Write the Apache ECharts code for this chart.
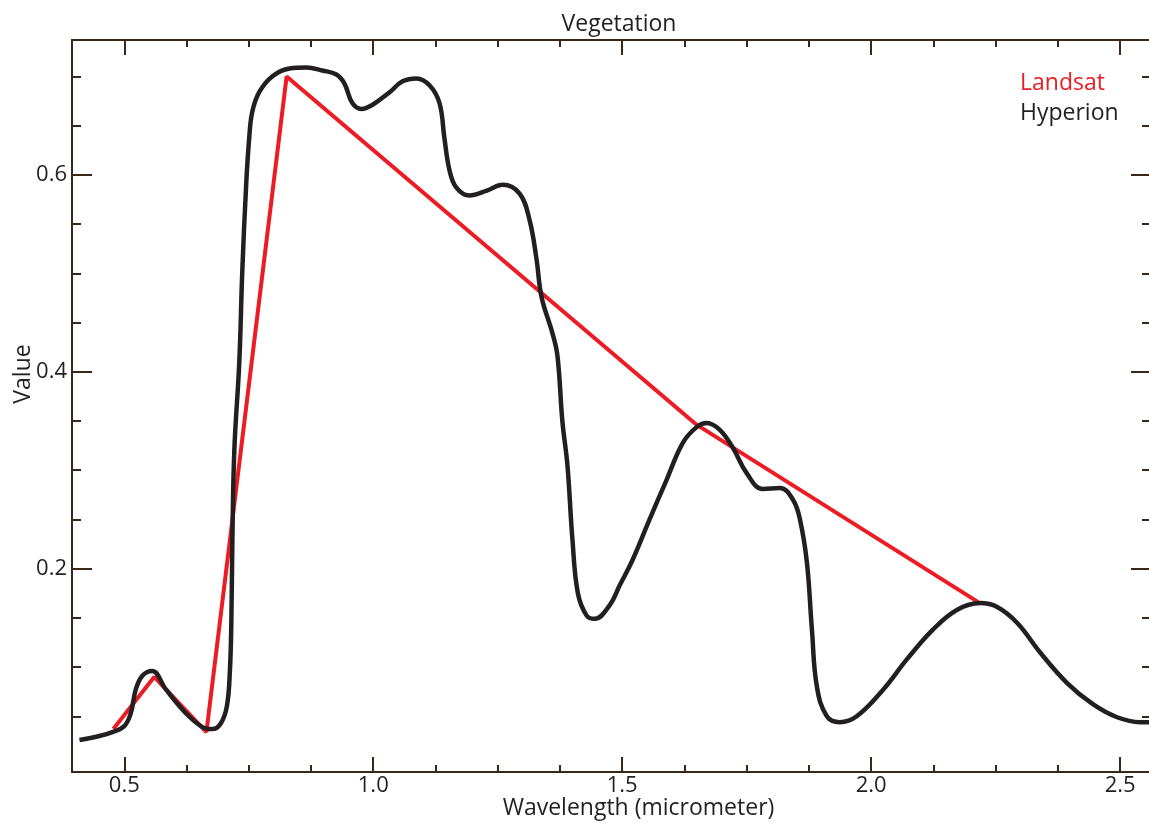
<!DOCTYPE html>
<html>
<head>
<meta charset="utf-8">
<title>Vegetation</title>
<script src="https://cdn.jsdelivr.net/npm/echarts@6/dist/echarts.min.js"></script>
<style>
  html, body { margin: 0; padding: 0; background: #fff; }
  #chart { width: 1149px; height: 823px; }
</style>
</head>
<body>
<div id="chart"></div>
<script>
// data: [wavelength, value]
const landsat = [
  [0.478, 0.037], [0.56, 0.090], [0.665, 0.034],
  [0.826, 0.700], [1.65, 0.346], [2.215, 0.166]
]
const hyperion = [
  [0.41, 0.026], [0.45, 0.030], [0.476, 0.034], [0.50, 0.040], [0.513, 0.053],
  [0.523, 0.077], [0.536, 0.091], [0.556, 0.096], [0.584, 0.077], [0.624, 0.053],
  [0.657, 0.039], [0.677, 0.037], [0.694, 0.043], [0.706, 0.060], [0.712, 0.095],
  [0.715, 0.145], [0.717, 0.225], [0.721, 0.320], [0.731, 0.410], [0.737, 0.502],
  [0.745, 0.592], [0.751, 0.638], [0.757, 0.664], [0.771, 0.684], [0.797, 0.700],
  [0.832, 0.708], [0.866, 0.709], [0.898, 0.706], [0.926, 0.702], [0.942, 0.693],
  [0.958, 0.673], [0.976, 0.667], [0.998, 0.671], [1.033, 0.684], [1.059, 0.695],
  [1.087, 0.698], [1.113, 0.691], [1.133, 0.673], [1.143, 0.637], [1.153, 0.605],
  [1.167, 0.587], [1.193, 0.579], [1.228, 0.584], [1.260, 0.590], [1.294, 0.581],
  [1.314, 0.554], [1.328, 0.514], [1.338, 0.476], [1.360, 0.439], [1.370, 0.416],
  [1.380, 0.349], [1.390, 0.305], [1.400, 0.230], [1.411, 0.175], [1.429, 0.152],
  [1.445, 0.149], [1.475, 0.163], [1.495, 0.183], [1.521, 0.209], [1.555, 0.250],
  [1.589, 0.290], [1.622, 0.328], [1.650, 0.344], [1.670, 0.348], [1.696, 0.341],
  [1.722, 0.323], [1.750, 0.297], [1.782, 0.281], [1.817, 0.282], [1.843, 0.270],
  [1.857, 0.250], [1.871, 0.206], [1.881, 0.138], [1.891, 0.080], [1.911, 0.050],
  [1.937, 0.044], [1.971, 0.050], [2.024, 0.077], [2.072, 0.108], [2.124, 0.138],
  [2.172, 0.158], [2.219, 0.165], [2.253, 0.161], [2.293, 0.145], [2.339, 0.115],
  [2.393, 0.084], [2.446, 0.062], [2.494, 0.049], [2.540, 0.044], [2.562, 0.044]
]
const xMajor = [0.5, 1.0, 1.5, 2.0, 2.5]
const xMinor = [0.625, 0.75, 0.875, 1.125, 1.25, 1.375, 1.625, 1.75, 1.875, 2.125, 2.25, 2.375]
const yMajor = [0.2, 0.4, 0.6]
const yMinor = [0.05, 0.1, 0.15, 0.25, 0.3, 0.35, 0.45, 0.5, 0.55, 0.65, 0.7]

const X_MIN = 0.395, X_MAX = 2.562
const Y_MIN = -0.0066, Y_MAX = 0.737

const axisColor = '#3a2718'
const textColor = '#231f20'
const font = 'Open Sans'

// one axis = one set of ticks; the box is made of several
function axis(position, min, max, ticks, len, opts) {
  opts = opts || {}
  return {
    type: 'value',
    position: position,
    min: min,
    max: max,
    axisLine: {show: !!opts.line, onZero: false, lineStyle: {color: axisColor, width: 2}},
    axisTick: {show: true, inside: true, length: len, customValues: ticks,
      lineStyle: {color: axisColor, width: 2}},
    axisLabel: opts.label ? {
      show: true, customValues: ticks, margin: opts.margin,
      fontSize: 22, fontFamily: font, color: textColor,
      formatter: v => v.toFixed(1)
    } : {show: false},
    splitLine: {show: false},
    name: opts.name,
    nameLocation: 'middle',
    nameGap: opts.nameGap,
    nameMoveOverlap: false,
    nameTextStyle: opts.nameStyle
  }
}

const chart = echarts.init(document.getElementById('chart'))
chart.setOption({
  animation: false,
  backgroundColor: '#fff',
  textStyle: {fontFamily: font},
  title: {
    text: 'Vegetation',
    left: 619, top: 13, textAlign: 'center', padding: 0,
    textStyle: {fontSize: 23, fontWeight: 'normal', color: textColor, fontFamily: font}
  },
  legend: {
    orient: 'vertical', left: 1010, top: 67,
    icon: 'none', itemWidth: 0, itemHeight: 20, itemGap: 7,
    selectedMode: false,
    textStyle: {fontSize: 23, fontFamily: font},
    data: [
      {name: 'Landsat', textStyle: {color: '#ed1c24'}},
      {name: 'Hyperion', textStyle: {color: textColor}}
    ]
  },
  grid: {left: 72, right: -2, top: 40, bottom: 51, outerBoundsMode: 'none', containLabel: false},
  xAxis: [
    axis('bottom', X_MIN, X_MAX, xMajor, 15, {line: true, label: true, margin: 3,
      name: 'Wavelength (micrometer)', nameGap: 25,
      nameStyle: {fontSize: 23, color: textColor, fontFamily: font, padding: [0, 0, 0, 54]}}),
    axis('bottom', X_MIN, X_MAX, xMinor, 7),
    axis('top', X_MIN, X_MAX, xMajor, 15, {line: true}),
    axis('top', X_MIN, X_MAX, xMinor, 7)
  ],
  yAxis: [
    axis('left', Y_MIN, Y_MAX, yMajor, 20, {line: true, label: true, margin: 5,
      name: 'Value', nameGap: 37,
      nameStyle: {fontSize: 23, color: textColor, fontFamily: font, padding: [0, 0, 0, 64]}}),
    axis('left', Y_MIN, Y_MAX, yMinor, 9),
    axis('right', Y_MIN, Y_MAX, yMajor, 20, {line: true}),
    axis('right', Y_MIN, Y_MAX, yMinor, 9)
  ],
  series: [
    {
      name: 'Landsat', type: 'line', data: landsat,
      showSymbol: false, symbol: 'none',
      lineStyle: {color: '#ed1c24', width: 4},
      itemStyle: {color: '#ed1c24'}
    },
    {
      name: 'Hyperion', type: 'line', data: hyperion,
      smooth: 0.4, showSymbol: false, symbol: 'none',
      lineStyle: {color: textColor, width: 4.5},
      itemStyle: {color: textColor}
    }
  ]
})
</script>
</body>
</html>
